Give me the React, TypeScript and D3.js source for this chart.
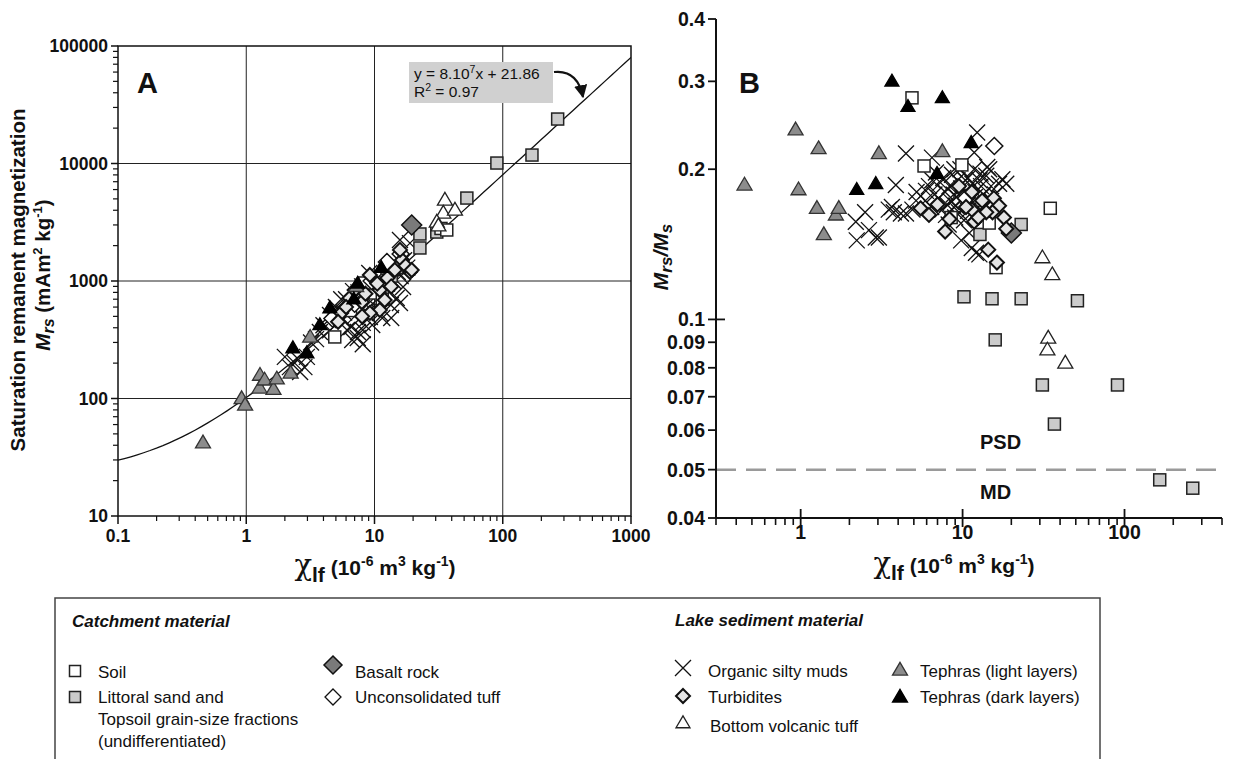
import React from "react";
import * as d3 from "d3";

const FONT = "'Liberation Sans', Arial, Helvetica, sans-serif";
type P = [number, number];

// ---------- Panel A data: [chi_lf, Mrs] ----------
const soilA: P[] = [[4.9, 334], [10.1, 790], [8.4, 962], [12.5, 1290], [33, 2800], [36.6, 2717], [6.5, 560], [11.5, 700]];
const littoralA: P[] = [[268, 23900], [169, 11800], [90, 10090], [52.5, 5080], [22.6, 2513], [22.6, 1910], [30.6, 2610], [13.5, 1100], [15.5, 1300]];
const basaltA: P[] = [[19.5, 3000]];
const tuffA: P[] = [[9.5, 1000], [7.0, 640], [12.5, 1450], [4.7, 480], [16, 1700]];
const turbiditesA: P[] = [[5.5, 535], [6.4, 716], [7.97, 662], [9.2, 1125], [11.0, 838], [12.0, 689], [14.4, 1241], [16.4, 1511], [18.9, 1194], [12.6, 1062], [7.0, 838], [11, 567], [9.2, 535], [6.0, 600], [8.5, 780], [10.5, 950], [13.5, 900], [17.5, 1350], [15.8, 1840], [5.2, 450], [8.0, 500], [19.5, 1240]];
const mudsA: P[] = [[2.19, 185], [2.39, 200], [2.63, 168], [2.84, 185], [2.0, 226], [2.97, 226], [3.75, 368], [4.5, 514], [7.43, 368], [8.1, 440], [11, 535], [13.4, 625], [14.9, 716], [5.67, 466], [6.6, 406], [9.2, 494], [7.4, 327], [8.1, 383], [9.6, 422], [11.5, 484], [13.5, 484], [15.8, 650], [16.7, 889], [15.2, 1194], [15.8, 2233], [18.9, 2100], [6.1, 383], [6.7, 315], [8.1, 290], [9.1, 1170], [5, 600], [6, 700], [7.5, 800], [10, 1000], [12, 1100], [4, 420], [3.2, 300], [2.5, 220], [8.7, 620], [10.5, 700], [13, 800], [17, 1500], [5.5, 700], [6.8, 820], [8, 900], [9.5, 780], [11, 900], [12.5, 950], [7, 500], [8.5, 560], [10, 620], [4.5, 380], [5.8, 540], [14, 1000], [16, 1100], [18, 1300], [3.5, 320]];
const tephraLightA: P[] = [[0.46, 42], [0.92, 100], [0.98, 88], [1.28, 158], [1.27, 123], [1.39, 144], [1.63, 120], [1.73, 147], [2.22, 165], [3.15, 333], [7.2, 900]];
const tephraDarkA: P[] = [[2.31, 269], [2.97, 244], [3.75, 423], [4.49, 589], [7.4, 955], [6.9, 700], [11.3, 1300]];
const bottomTuffA: P[] = [[35.4, 4890], [34.4, 3790], [42.4, 4020], [30.6, 3180], [31.5, 2950]];

// ---------- Panel B data: [chi_lf, Mrs/Ms] ----------
const soilB: P[] = [[4.87, 0.278], [5.78, 0.203], [9.9, 0.204], [8.5, 0.160], [34.8, 0.167], [14.6, 0.156], [16.1, 0.127]];
const littoralB: P[] = [[10.2, 0.111], [15.2, 0.110], [23.0, 0.110], [51.2, 0.109], [15.9, 0.091], [31.1, 0.0739], [90.5, 0.0739], [36.9, 0.0617], [165, 0.0477], [264, 0.0459], [23.0, 0.155], [12.8, 0.148]];
const basaltB: P[] = [[20, 0.149]];
const tuffB: P[] = [[15.7, 0.2226], [10.5, 0.175]];
const turbiditesB: P[] = [[13.6, 0.173], [15.6, 0.175], [16.8, 0.169], [15.3, 0.164], [11.4, 0.166], [11.8, 0.157], [18.0, 0.16], [18.6, 0.152], [14.4, 0.138], [16.3, 0.130], [5.5, 0.167], [6.2, 0.162], [7.8, 0.150], [8.3, 0.159], [13.2, 0.173], [14.0, 0.164], [11.4, 0.18], [9.5, 0.185], [10.5, 0.168], [12.5, 0.16], [7, 0.17]];
const mudsB: P[] = [[2.19, 0.157], [2.64, 0.151], [2.22, 0.144], [2.91, 0.146], [2.5, 0.164], [3.87, 0.186], [3.76, 0.164], [4.47, 0.215], [4.47, 0.163], [5.16, 0.173], [5.94, 0.181], [6.47, 0.211], [12.3, 0.237], [11.8, 0.216], [14.2, 0.202], [18.6, 0.187], [12.1, 0.136], [9.8, 0.144], [3.66, 0.168], [3.04, 0.146], [4.16, 0.163], [5.2, 0.18], [6.2, 0.185], [7.1, 0.175], [8.3, 0.185], [9.1, 0.169], [10.5, 0.18], [12.7, 0.19], [14, 0.194], [16.8, 0.187], [17.6, 0.191], [11.4, 0.139], [12.7, 0.135], [6.85, 0.197], [7.5, 0.166], [9.5, 0.164], [11, 0.149], [5.9, 0.173], [6.5, 0.19], [4.9, 0.166], [3.5, 0.166], [7.8, 0.18], [8.8, 0.178], [9.3, 0.19], [10, 0.175], [8, 0.17], [9, 0.16], [10.2, 0.158], [11.2, 0.17], [12, 0.18], [13, 0.185], [8.6, 0.195], [7.3, 0.188], [10.8, 0.192], [11.8, 0.2], [13.5, 0.178], [15, 0.185], [6.7, 0.178], [9.7, 0.2], [12.5, 0.168], [8.2, 0.155], [8.5, 0.172], [9.8, 0.183], [10.8, 0.165], [7.6, 0.192], [8.9, 0.2], [11.5, 0.187], [6.4, 0.168], [9.2, 0.176], [10.4, 0.19], [13.8, 0.17], [7.9, 0.162], [11.9, 0.176], [12.9, 0.196], [15.8, 0.178], [14.6, 0.2]];
const tephraLightB: P[] = [[0.45, 0.186], [0.93, 0.240], [0.97, 0.182], [1.29, 0.220], [1.26, 0.167], [1.65, 0.162], [1.72, 0.167], [1.39, 0.148], [3.04, 0.215], [7.5, 0.217]];
const tephraDarkB: P[] = [[3.66, 0.30], [4.6, 0.267], [7.5, 0.278], [2.22, 0.182], [2.91, 0.187], [6.95, 0.196], [11.3, 0.226]];
const bottomTuffB: P[] = [[33.8, 0.0918], [33.4, 0.0869], [43.1, 0.0818], [31.1, 0.133], [35.8, 0.123]];

// ---------- ticks ----------
const xTicksA = [0.1, 1, 10, 100, 1000];
const yTicksA = [10, 100, 1000, 10000, 100000];
const xTicksB = [1, 10, 100];
const yTicksB = [0.04, 0.05, 0.06, 0.07, 0.08, 0.09, 0.1, 0.2, 0.3, 0.4];
const trendSlope = 80;
const trendIntercept = 21.86;
const boundary = 0.05;

// ---------- marker drawing ----------
const sq = (cx: number, cy: number, s: number, fill: string, k: string) => (
  <rect key={k} x={cx - s / 2} y={cy - s / 2} width={s} height={s} fill={fill} stroke="#222" strokeWidth={1.5} />
);
const tri = (cx: number, cy: number, w: number, fill: string, k: string, stroke = "#333") => {
  const h = w * 0.85;
  return <polygon key={k} points={`${cx},${cy - h * 0.6} ${cx + w / 2},${cy + h * 0.4} ${cx - w / 2},${cy + h * 0.4}`} fill={fill} stroke={stroke} strokeWidth={1.3} strokeLinejoin="miter" />;
};
const dia = (cx: number, cy: number, r: number, fill: string, k: string, sw = 1.5) => (
  <path key={k} d={`M${cx},${cy - r}L${cx + r},${cy}L${cx},${cy + r}L${cx - r},${cy}Z`} fill={fill} stroke="#111" strokeWidth={sw} />
);
const crs = (cx: number, cy: number, r: number, k: string) => (
  <path key={k} d={`M${cx - r},${cy - r}L${cx + r},${cy + r}M${cx - r},${cy + r}L${cx + r},${cy - r}`} stroke="#111" strokeWidth={1.3} fill="none" />
);

function markers(
  sx: d3.ScaleLogarithmic<number, number>,
  sy: d3.ScaleLogarithmic<number, number>,
  d: { soil: P[]; lit: P[]; bas: P[]; tuff: P[]; turb: P[]; muds: P[]; tl: P[]; td: P[]; bt: P[] },
  p: string
) {
  const out: React.ReactNode[] = [];
  d.muds.forEach((v, i) => out.push(crs(sx(v[0]), sy(v[1]), 8, `${p}m${i}`)));
  d.lit.forEach((v, i) => out.push(sq(sx(v[0]), sy(v[1]), 12, "#cbcbcb", `${p}l${i}`)));
  d.soil.forEach((v, i) => out.push(sq(sx(v[0]), sy(v[1]), 12, "#fff", `${p}s${i}`)));
  d.tuff.forEach((v, i) => out.push(dia(sx(v[0]), sy(v[1]), 8.5, "#fff", `${p}u${i}`)));
  d.bas.forEach((v, i) => out.push(dia(sx(v[0]), sy(v[1]), 10, "#7a7a7a", `${p}b${i}`)));
  d.turb.forEach((v, i) => out.push(dia(sx(v[0]), sy(v[1]), 7, "#e4e4e4", `${p}t${i}`, 2)));
  d.bt.forEach((v, i) => out.push(tri(sx(v[0]), sy(v[1]), 15, "#fff", `${p}v${i}`, "#222")));
  d.tl.forEach((v, i) => out.push(tri(sx(v[0]), sy(v[1]), 15, "#8c8c8c", `${p}g${i}`)));
  d.td.forEach((v, i) => out.push(tri(sx(v[0]), sy(v[1]), 14, "#000", `${p}d${i}`, "#000")));
  return out;
}

const minorLog = (lo: number, hi: number) => {
  const r: number[] = [];
  for (let e = Math.floor(Math.log10(lo)); e <= Math.ceil(Math.log10(hi)); e++) {
    for (let m = 1; m <= 9; m++) {
      const v = m * Math.pow(10, e);
      if (v >= lo * 0.9999 && v <= hi * 1.0001) r.push(v);
    }
  }
  return r;
};

function ChiTitle({ x, y }: { x: number; y: number }) {
  return (
    <text x={x} y={y} textAnchor="middle" fontFamily={FONT} fontWeight="bold" fontSize={21} fill="#111">
      <tspan fontSize={29} fontWeight="normal" fontFamily="'DejaVu Serif', serif">χ</tspan>
      <tspan dy={7}>lf</tspan>
      <tspan dy={-7}> (10</tspan>
      <tspan dy={-9} fontSize={14}>-6</tspan>
      <tspan dy={9}> m</tspan>
      <tspan dy={-9} fontSize={14}>3</tspan>
      <tspan dy={9}> kg</tspan>
      <tspan dy={-9} fontSize={14}>-1</tspan>
      <tspan dy={9}>)</tspan>
    </text>
  );
}

export default function App() {
  const xA = d3.scaleLog().domain([0.1, 1000]).range([118, 631]);
  const yA = d3.scaleLog().domain([10, 100000]).range([516, 46]);
  const xB = d3.scaleLog().domain([0.3, 400]).range([716, 1222]);
  const yB = d3.scaleLog().domain([0.04, 0.4]).range([518, 19]);

  const trendXs = d3.range(0, 81).map((i) => Math.pow(10, -1 + (4 * i) / 80));
  const trend = d3
    .line<number>()
    .x((v) => xA(v))
    .y((v) => yA(trendSlope * v + trendIntercept))(trendXs) as string;

  const minorXA = minorLog(0.1, 1000).filter((v) => !xTicksA.includes(v));
  const minorYA = minorLog(10, 100000).filter((v) => !yTicksA.includes(v));
  const minorXB = minorLog(0.3, 400).filter((v) => !xTicksB.includes(v) && v > 0.3);

  const tickA = { fontFamily: FONT, fontWeight: "bold" as const, fontSize: 17.5, fill: "#111" };
  const tickB = { fontFamily: FONT, fontWeight: "bold" as const, fontSize: 19.5, fill: "#111" };

  return (
    <svg width={1233} height={759} style={{ display: "block", background: "#fff" }}>
      <style>{`body{margin:0;overflow:hidden}`}</style>
      {/* ---------------- Panel A ---------------- */}
      <defs>
        <clipPath id="clipA">
          <rect x={118} y={46} width={513} height={470} />
        </clipPath>
        <marker id="arr" viewBox="0 0 10 10" refX="9" refY="5" markerWidth="6" markerHeight="6" orient="auto">
          <path d="M0,0L10,5L0,10Z" fill="#111" />
        </marker>
      </defs>
      {xTicksA.slice(1, -1).map((v) => (
        <line key={"gx" + v} x1={xA(v)} x2={xA(v)} y1={46} y2={516} stroke="#222" strokeWidth={1} />
      ))}
      {yTicksA.slice(1, -1).map((v) => (
        <line key={"gy" + v} x1={118} x2={631} y1={yA(v)} y2={yA(v)} stroke="#222" strokeWidth={1} />
      ))}
      <path d={trend} fill="none" stroke="#111" strokeWidth={1.3} clipPath="url(#clipA)" />
      <g clipPath="url(#clipA)">
        {markers(xA, yA, { soil: soilA, lit: littoralA, bas: basaltA, tuff: tuffA, turb: turbiditesA, muds: mudsA, tl: tephraLightA, td: tephraDarkA, bt: bottomTuffA }, "A")}
      </g>
      <rect x={118} y={46} width={513} height={470} fill="none" stroke="#111" strokeWidth={1.5} />
      {minorYA.map((v) => (
        <line key={"myA" + v} x1={113} x2={118} y1={yA(v)} y2={yA(v)} stroke="#111" strokeWidth={1.2} />
      ))}
      {yTicksA.map((v) => (
        <g key={"yA" + v}>
          <line x1={111} x2={118} y1={yA(v)} y2={yA(v)} stroke="#111" strokeWidth={1.5} />
          <text x={108} y={yA(v) + 6} textAnchor="end" {...tickA}>{v}</text>
        </g>
      ))}
      {minorXA.map((v) => (
        <line key={"mxA" + v} x1={xA(v)} x2={xA(v)} y1={516} y2={521} stroke="#111" strokeWidth={1.2} />
      ))}
      {xTicksA.map((v) => (
        <g key={"xA" + v}>
          <line x1={xA(v)} x2={xA(v)} y1={516} y2={524} stroke="#111" strokeWidth={1.5} />
          <text x={xA(v)} y={542} textAnchor="middle" {...tickA}>{v}</text>
        </g>
      ))}
      <text x={137} y={93} fontFamily={FONT} fontWeight="bold" fontSize={29} fill="#111">A</text>
      {/* equation box */}
      <rect x={409} y={62} width={144} height={41} fill="#d0d0d0" />
      <text x={414} y={79} fontFamily={FONT} fontSize={15.5} fill="#111">
        y = 8.10<tspan dy={-6} fontSize={10.5}>7</tspan><tspan dy={6}>x + 21.86</tspan>
      </text>
      <text x={414} y={97} fontFamily={FONT} fontSize={15.5} fill="#111">
        R<tspan dy={-6} fontSize={10.5}>2</tspan><tspan dy={6}> = 0.97</tspan>
      </text>
      <path d="M554,72 C572,70 580,82 583,97" fill="none" stroke="#111" strokeWidth={2.2} markerEnd="url(#arr)" />
      {/* A axis titles */}
      <text transform="translate(25,280) rotate(-90)" textAnchor="middle" fontFamily={FONT} fontWeight="bold" fontSize={20.5} fill="#111">
        Saturation remanent magnetization
      </text>
      <text transform="translate(50,275) rotate(-90)" textAnchor="middle" fontFamily={FONT} fontWeight="bold" fontSize={20.5} fill="#111">
        <tspan fontStyle="italic">M</tspan>
        <tspan fontStyle="italic" fontSize={16} dy={4}>rs</tspan>
        <tspan dy={-4}> (mAm</tspan>
        <tspan dy={-8} fontSize={13}>2</tspan>
        <tspan dy={8}> kg</tspan>
        <tspan dy={-8} fontSize={13}>-1</tspan>
        <tspan dy={8}>)</tspan>
      </text>
      <ChiTitle x={375} y={575} />

      {/* ---------------- Panel B ---------------- */}
      <line x1={716} x2={1222} y1={yB(boundary)} y2={yB(boundary)} stroke="#9a9a9a" strokeWidth={2.5} strokeDasharray="20,10" />
      <text x={980} y={449} fontFamily={FONT} fontWeight="bold" fontSize={20} fill="#111">PSD</text>
      <text x={980} y={499} fontFamily={FONT} fontWeight="bold" fontSize={20} fill="#111">MD</text>
      {markers(xB, yB, { soil: soilB, lit: littoralB, bas: basaltB, tuff: tuffB, turb: turbiditesB, muds: mudsB, tl: tephraLightB, td: tephraDarkB, bt: bottomTuffB }, "B")}
      <line x1={716} x2={716} y1={19} y2={518} stroke="#111" strokeWidth={2} />
      <line x1={716} x2={1222} y1={518} y2={518} stroke="#111" strokeWidth={2} />
      {yTicksB.map((v) => (
        <g key={"yB" + v}>
          <line x1={708} x2={v === 0.1 ? 725 : 716} y1={yB(v)} y2={yB(v)} stroke="#111" strokeWidth={1.8} />
          <text x={705} y={yB(v) + 7} textAnchor="end" {...tickB}>{v}</text>
        </g>
      ))}
      {minorXB.map((v) => (
        <line key={"mxB" + v} x1={xB(v)} x2={xB(v)} y1={518} y2={525} stroke="#111" strokeWidth={1.6} />
      ))}
      {xTicksB.map((v) => (
        <g key={"xB" + v}>
          <line x1={xB(v)} x2={xB(v)} y1={509} y2={527} stroke="#111" strokeWidth={1.8} />
          <text x={xB(v)} y={539} textAnchor="middle" {...tickB}>{v}</text>
        </g>
      ))}
      <text x={739} y={93} fontFamily={FONT} fontWeight="bold" fontSize={29} fill="#111">B</text>
      <text transform="translate(668,257) rotate(-90)" textAnchor="middle" fontFamily={FONT} fontWeight="bold" fontStyle="italic" fontSize={21} fill="#111">
        M<tspan fontSize={17} dy={4}>rs</tspan><tspan dy={-4}>/M</tspan><tspan fontSize={17} dy={4}>s</tspan>
      </text>
      <ChiTitle x={954} y={573} />

      {/* ---------------- Legend ---------------- */}
      <rect x={55} y={598} width={1045} height={200} fill="none" stroke="#444" strokeWidth={1.5} />
      <g fontFamily={FONT} fontSize={17} fill="#111">
        <text x={72} y={627} fontWeight="bold" fontStyle="italic">Catchment material</text>
        {sq(75, 671, 11, "#fff", "lg1")}
        <text x={98} y={678}>Soil</text>
        {sq(75, 697, 11, "#cbcbcb", "lg2")}
        <text x={98} y={703}>Littoral sand and</text>
        <text x={98} y={725}>Topsoil grain-size fractions</text>
        <text x={98} y={747}>(undifferentiated)</text>
        {dia(333, 665, 9, "#7a7a7a", "lg3")}
        <text x={355} y={678}>Basalt rock</text>
        {dia(333, 697, 8, "#fff", "lg4", 1.3)}
        <text x={355} y={703}>Unconsolidated tuff</text>

        <text x={675} y={626} fontWeight="bold" fontStyle="italic">Lake sediment material</text>
        {crs(683, 668, 8, "lg5")}
        <text x={708} y={677}>Organic silty muds</text>
        {dia(683, 696, 7, "#e4e4e4", "lg6", 2)}
        <text x={708} y={703}>Turbidites</text>
        {tri(683, 723, 14, "#fff", "lg7", "#222")}
        <text x={710} y={732}>Bottom volcanic tuff</text>
        {tri(900, 670, 15, "#8c8c8c", "lg8")}
        <text x={920} y={677}>Tephras (light layers)</text>
        {tri(900, 697, 15, "#000", "lg9", "#000")}
        <text x={920} y={703}>Tephras (dark layers)</text>
      </g>
    </svg>
  );
}
